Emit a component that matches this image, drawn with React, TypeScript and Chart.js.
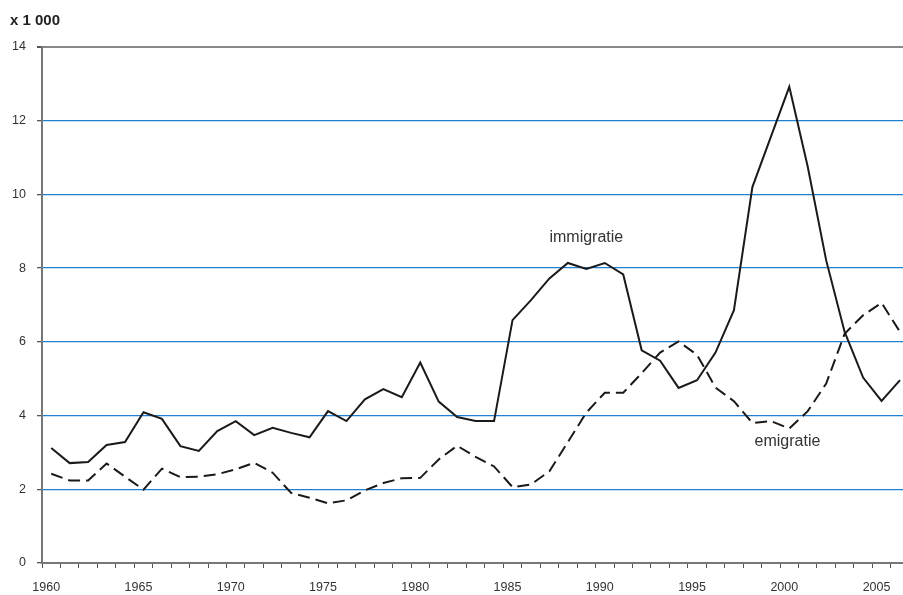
import React, { useEffect, useRef } from "react";
import { Chart, registerables } from "chart.js";

Chart.register(...registerables);

const years = [
  "1960","1961","1962","1963","1964","1965","1966","1967","1968","1969",
  "1970","1971","1972","1973","1974","1975","1976","1977","1978","1979",
  "1980","1981","1982","1983","1984","1985","1986","1987","1988","1989",
  "1990","1991","1992","1993","1994","1995","1996","1997","1998","1999",
  "2000","2001","2002","2003","2004","2005","2006",
];

const xTickLabels = ["1960", "1965", "1970", "1975", "1980", "1985", "1990", "1995", "2000", "2005"];

const immigratie = [
  3.12, 2.71, 2.74, 3.2, 3.28, 4.09, 3.91, 3.17, 3.04, 3.58,
  3.85, 3.47, 3.67, 3.53, 3.41, 4.12, 3.85, 4.44, 4.72, 4.5,
  5.44, 4.38, 3.96, 3.85, 3.85, 6.59, 7.13, 7.72, 8.14, 7.98,
  8.14, 7.83, 5.77, 5.49, 4.75, 4.96, 5.71, 6.86, 10.2, 11.56,
  12.92, 10.75, 8.21, 6.27, 5.03, 4.4, 4.96,
];

const emigratie = [
  2.42, 2.24, 2.24, 2.7, 2.34, 1.99, 2.56, 2.33, 2.34, 2.41,
  2.54, 2.72, 2.45, 1.9, 1.77, 1.62, 1.7, 1.97, 2.17, 2.3,
  2.31, 2.81, 3.18, 2.88, 2.62, 2.06, 2.13, 2.49, 3.28, 4.08,
  4.62, 4.62, 5.15, 5.71, 6.01, 5.65, 4.76, 4.39, 3.8, 3.85,
  3.65, 4.12, 4.87, 6.22, 6.72, 7.06, 6.27,
];

const unitLabel = "x 1 000";
const seriesLabels = ["immigratie", "emigratie"];
// label anchors: [category index, value]
const immLabelAt = [29, 8.7];
const emiLabelAt = [39.9, 3.17];

const FONT = "'Liberation Sans', Arial, sans-serif";

export default function App() {
  const ref = useRef<HTMLCanvasElement>(null);

  useEffect(() => {
    if (!ref.current) return;
    const textPlugin = {
      id: "texts",
      afterDraw(chart: any) {
        const ctx = chart.ctx;
        const xs = chart.scales.x;
        const ys = chart.scales.y;
        const px = (v: number) => {
          const i = Math.floor(v);
          const f = v - i;
          const a = xs.getPixelForValue(i);
          const b = xs.getPixelForValue(i + 1);
          return a + (b - a) * f;
        };
        ctx.save();
        ctx.fillStyle = "#222";
        ctx.font = `bold 15px ${FONT}`;
        ctx.textAlign = "left";
        ctx.textBaseline = "alphabetic";
        ctx.fillText(unitLabel, 10, 25);
        ctx.font = `16px ${FONT}`;
        ctx.fillStyle = "#333";
        ctx.textAlign = "center";
        ctx.fillText(seriesLabels[0], px(immLabelAt[0]), ys.getPixelForValue(immLabelAt[1]));
        ctx.fillText(seriesLabels[1], px(emiLabelAt[0]), ys.getPixelForValue(emiLabelAt[1]));
        ctx.restore();
      },
    };

    const chart = new Chart(ref.current, {
      type: "line",
      data: {
        labels: years,
        datasets: [
          {
            label: seriesLabels[0],
            data: immigratie,
            borderColor: "#1a1a1a",
            borderWidth: 2,
            pointRadius: 0,
            tension: 0,
            fill: false,
          },
          {
            label: seriesLabels[1],
            data: emigratie,
            borderColor: "#1a1a1a",
            borderWidth: 2,
            borderDash: [12, 6],
            pointRadius: 0,
            tension: 0,
            fill: false,
          },
        ],
      },
      options: {
        animation: false,
        responsive: false,
        layout: { padding: { top: 47, right: 0, bottom: 0, left: 0 } },
        plugins: {
          legend: { display: false },
          tooltip: { enabled: false },
          title: { display: false },
        },
        scales: {
          x: {
            type: "category",
            offset: true,
            grid: {
              offset: true,
              drawOnChartArea: false,
              drawTicks: true,
              tickLength: 5,
              color: "#555",
              lineWidth: 1,
            },
            border: { display: true, color: "#777", width: 2 },
            ticks: {
              autoSkip: false,
              maxRotation: 0,
              minRotation: 0,
              labelOffset: -5,
              padding: 12,
              color: "#333",
              font: { family: FONT, size: 12.5 },
              callback: (_v: any, i: number) =>
                xTickLabels.includes(years[i]) ? years[i] : "",
            },
            afterFit: (s: any) => {
              s.height = 32;
            },
          },
          y: {
            min: 0,
            max: 14,
            ticks: {
              stepSize: 2,
              padding: 11,
              color: "#333",
              font: { family: FONT, size: 12.5 },
            },
            grid: {
              drawTicks: true,
              tickLength: 5,
              tickColor: "#555",
              color: (c: any) =>
                c.tick.value === 0 ? "rgba(0,0,0,0)" : c.tick.value === 14 ? "#888" : "#1f7fd0",
              lineWidth: (c: any) => (c.tick.value === 14 ? 2 : 1.3),
            },
            border: { display: true, color: "#777", width: 2 },
            afterFit: (s: any) => {
              s.width = 42;
            },
          },
        },
      },
      plugins: [textPlugin],
    });
    return () => chart.destroy();
  }, []);

  return (
    <div
      style={{
        position: "fixed",
        left: 0,
        top: 0,
        width: 903,
        height: 595,
        overflow: "hidden",
        background: "#fff",
      }}
    >
      <canvas ref={ref} width={912} height={595} style={{ display: "block" }} />
    </div>
  );
}
